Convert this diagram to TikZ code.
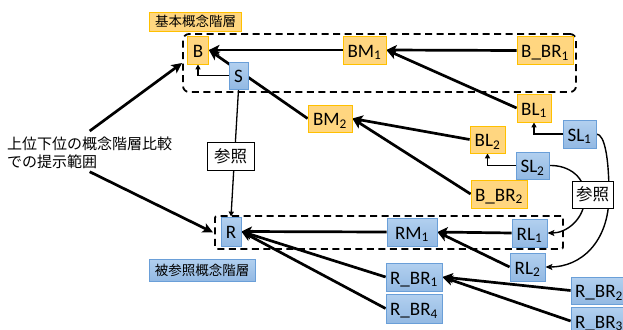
\documentclass[tikz,border=0pt]{standalone}
\usepackage{fontspec}
\setmainfont{Carlito}
\newfontfamily\jpfont{Noto Sans CJK JP}
\usetikzlibrary{arrows.meta}
\definecolor{obg}{HTML}{FFD680}
\definecolor{oline}{HTML}{FFC000}
\definecolor{btop}{HTML}{B2D0EF}
\definecolor{bbot}{HTML}{93B9E3}
\definecolor{bline}{HTML}{6A9FD8}
\newcommand\lidx[1]{\textsubscript{#1}}
\pgfdeclarelayer{bg}
\pgfsetlayers{bg,main}

\begin{document}
\begin{tikzpicture}[x=1pt,y=-1pt,
  box/.style={inner sep=0pt, line width=0.8pt, font=\fontsize{19}{19}\selectfont,
    text height=14.5pt, text depth=0pt},
  obox/.style={box, fill=obg, draw=oline},
  bbox/.style={box, top color=btop, bottom color=bbot, draw=bline},
  refbox/.style={draw=black, fill=white, line width=0.8pt, inner sep=0pt,
    font=\jpfont\fontsize{16.5}{16.5}\selectfont},
  layerbox/.style={draw=black, line width=1.8pt, dash pattern=on 7pt off 4.5pt,
    inner sep=0pt},
  tagbox/.style={inner sep=0pt, line width=0.8pt, font=\jpfont\fontsize{13.5}{13.5}\selectfont},
  heavy/.style={line width=2.7pt, -{Stealth[length=10.5pt,width=10pt,inset=2.5pt]}},
  light/.style={line width=1.3pt, -{Triangle[length=5pt,width=5pt]}},
  curve/.style={line width=1.4pt, -{Stealth[length=7pt,width=6pt,inset=1.5pt]}}
]
\clip (0,0) rectangle (623,329);

% dashed frames around the two compared hierarchies
\node[layerbox, rounded corners=6pt, minimum width=393pt, minimum height=58pt] (top) at (379.5,63) {};
\node[layerbox, rounded corners=2pt, minimum width=348pt, minimum height=33pt] (bot) at (389,232.5) {};

% hierarchy captions
\node[tagbox, fill=obg, draw=oline, minimum width=92pt, minimum height=19pt] (tagB) at (195.5,21.5) {基本概念階層};
\node[tagbox, top color=btop, bottom color=bbot, draw=bline, minimum width=106pt, minimum height=22pt] (tagR) at (202,270) {被参照概念階層};

% base hierarchy
\node[obox, minimum width=21pt, minimum height=28pt] (B) at (198,50) {B};
\node[obox, minimum width=43pt, minimum height=28pt] (BM1) at (364.5,50) {BM\lidx{1}};
\node[obox, minimum width=56pt, minimum height=28pt] (BBR1) at (545,50.5) {B\_BR\lidx{1}};
\node[obox, minimum width=34pt, minimum height=28pt] (BL1) at (534,108) {BL\lidx{1}};
\node[obox, minimum width=44pt, minimum height=27pt] (BM2) at (330,118.5) {BM\lidx{2}};
\node[obox, minimum width=35pt, minimum height=27pt] (BL2) at (487.5,139.5) {BL\lidx{2}};
\node[obox, minimum width=56pt, minimum height=28pt] (BBR2) at (499,194) {B\_BR\lidx{2}};

% side nodes
\node[bbox, minimum width=19pt, minimum height=27pt] (S) at (238.5,75.5) {S};
\node[bbox, minimum width=33pt, minimum height=28pt] (SL1) at (579.5,134) {SL\lidx{1}};
\node[bbox, minimum width=33pt, minimum height=27pt] (SL2) at (532.5,165.5) {SL\lidx{2}};

% referenced hierarchy
\node[bbox, minimum width=20pt, minimum height=29pt] (R) at (231,231.5) {R};
\node[bbox, minimum width=50pt, minimum height=28pt] (RM1) at (412,232) {RM\lidx{1}};
\node[bbox, minimum width=35pt, minimum height=28pt] (RL1) at (529.5,233) {RL\lidx{1}};
\node[bbox, minimum width=35pt, minimum height=28pt] (RL2) at (527.5,267) {RL\lidx{2}};
\node[bbox, minimum width=56pt, minimum height=28pt] (RBR1) at (414,277) {R\_BR\lidx{1}};
\node[bbox, minimum width=56pt, minimum height=29pt] (RBR4) at (414,308.5) {R\_BR\lidx{4}};
\node[bbox, minimum width=56pt, minimum height=27pt] (RBR2) at (599,290.5) {R\_BR\lidx{2}};
\node[bbox, minimum width=56pt, minimum height=28pt] (RBR3) at (599,321) {R\_BR\lidx{3}};

% reference markers
\node[refbox, minimum width=47pt, minimum height=28pt] (ref1) at (230.5,156) {参照};
\node[refbox, minimum width=41pt, minimum height=27pt] (ref2) at (592.5,194.5) {参照};

% explanatory note
\node[inner sep=0pt, anchor=north west, align=left,
  font=\jpfont\fontsize{15}{17.5}\selectfont] (note) at (7,137) {上位下位の概念階層比較\\での提示範囲};

\begin{pgfonlayer}{bg}
  % base hierarchy links
  \draw[heavy] (BBR1.west) -- (BM1.east);
  \draw[heavy] (BM1.west) -- (B.east);
  \draw[heavy] (BL1.west) -- (BM1.east);
  \draw[heavy] (BM2.west) -- (B.east);
  \draw[heavy] (BL2.west) -- (BM2.east);
  \draw[heavy] (BBR2.west) -- (BM2.east);
  % referenced hierarchy links
  \draw[heavy] (RM1.west) -- (R.east);
  \draw[heavy] (RL1.west) -- (RM1.east);
  \draw[heavy] (RL2.west) -- (RM1.east);
  \draw[heavy] (RBR1.west) -- (R.east);
  \draw[heavy] (RBR4.west) -- (R.east);
  \draw[heavy] (RBR2.west) -- (RBR1.east);
  \draw[heavy] (RBR3.west) -- (RBR1.east);
  % side links
  \draw[light] (S.west) -| (B.south);
  \draw[light] (SL1.west) -| (BL1.south);
  \draw[light] (SL2.west) -| (BL2.south);
  \draw[light] (S.south) -- (R.north);
  % reference curves
  \draw[curve] (SL2.east) .. controls (570,165) and (586,178) .. (585,198)
    .. controls (584,220) and (566,233) .. (RL1.east);
  \draw[curve] (SL1.east) .. controls (605,134) and (609,160) .. (609,195)
    .. controls (609,243) and (580,267) .. (RL2.east);
  % note pointers
  \draw[heavy] ([yshift=6pt]note.north) -- (top.west);
  \draw[heavy] ([yshift=-3pt]note.south) -- ([xshift=-1pt]bot.west);
\end{pgfonlayer}
\end{tikzpicture}
\end{document}
